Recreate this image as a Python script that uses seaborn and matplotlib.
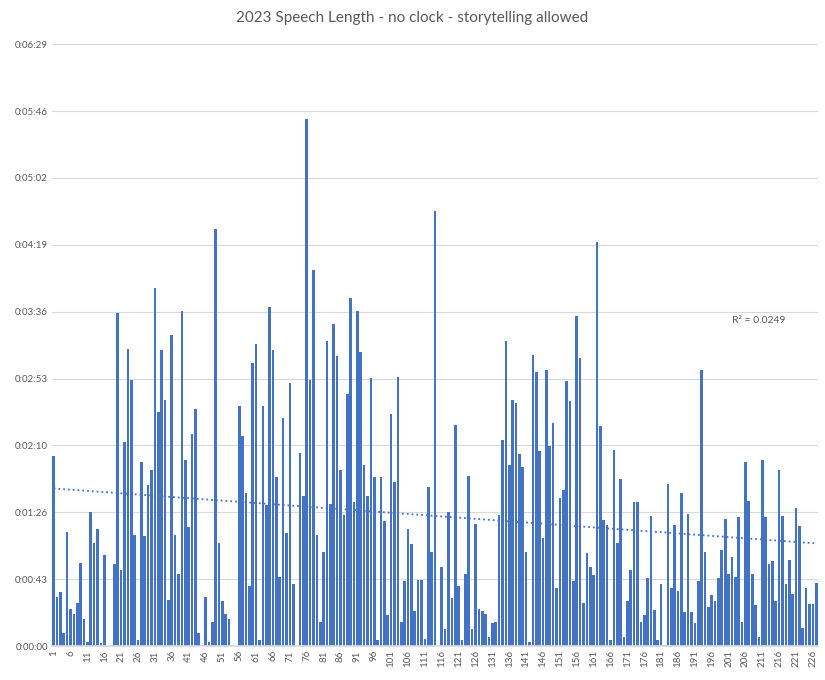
import numpy as np
import pandas as pd
import seaborn as sns
import matplotlib.pyplot as plt

title = "2023 Speech Length - no clock - storytelling allowed"

# speech length in seconds, speech 1..227
seconds = [
    122.9, 31.7, 35.0, 8.5, 73.6, 24.2, 20.8, 27.9, 53.5, 17.5,
    2.8, 86.4, 66.5, 75.5, 1.9, 58.7, 0, 0, 52.8, 215.0,
    49.3, 131.7, 191.8, 171.7, 71.5, 3.8, 118.6, 71.3, 104.0, 113.7,
    231.1, 151.1, 191.1, 158.7, 29.6, 200.8, 71.5, 46.4, 216.2, 120.1,
    76.7, 136.9, 153.0, 8.1, 0, 31.5, 2.6, 15.4, 269.7, 66.5,
    28.9, 20.6, 17.5, 0, 0, 154.9, 135.4, 98.7, 38.6, 182.6,
    194.9, 3.8, 154.9, 90.9, 218.8, 191.1, 108.9, 44.5, 147.1, 72.9,
    169.8, 40.0, 0, 124.6, 97.1, 340.3, 171.7, 243.0, 71.5, 15.4,
    60.6, 196.8, 91.6, 207.9, 187.1, 113.7, 84.5, 162.7, 224.7, 92.8,
    216.4, 189.9, 117.0, 97.1, 172.9, 108.9, 3.8, 108.9, 80.5, 19.9,
    149.7, 105.8, 173.6, 15.4, 41.7, 75.5, 65.8, 22.5, 42.9, 42.9,
    4.7, 102.5, 60.6, 280.8, 0, 50.9, 10.9, 86.4, 31.0, 142.6,
    38.6, 3.8, 46.4, 109.6, 10.9, 78.6, 23.9, 22.5, 20.6, 5.7,
    14.7, 15.4, 84.5, 132.8, 196.8, 116.7, 158.7, 156.8, 123.8, 115.6,
    60.6, 2.6, 187.8, 176.9, 126.2, 69.6, 178.1, 129.1, 144.0, 37.4,
    95.4, 100.6, 171.0, 158.2, 41.7, 213.1, 185.9, 27.7, 59.9, 50.9,
    45.7, 260.7, 142.1, 81.5, 78.1, 3.8, 126.5, 66.5, 107.7, 5.7,
    28.9, 49.0, 92.8, 92.8, 15.4, 19.9, 43.8, 83.8, 23.4, 3.8,
    40.0, 0.5, 104.4, 37.4, 78.1, 35.5, 98.7, 21.8, 85.2, 22.0,
    14.7, 41.7, 178.1, 60.6, 25.3, 32.9, 28.9, 43.8, 61.8, 81.9,
    46.4, 57.5, 44.5, 83.4, 15.4, 118.6, 93.5, 46.4, 26.3, 5.7,
    120.1, 83.4, 52.8, 54.7, 28.9, 113.7, 83.8, 40.0, 55.4, 33.4,
    89.0, 77.7, 11.6, 37.4, 27.2, 27.2, 40.5,
]
speech_no = list(range(1, len(seconds) + 1))

ytick_labels = ["0:00:00", "0:00:43", "0:01:26", "0:02:10", "0:02:53",
                "0:03:36", "0:04:19", "0:05:02", "0:05:46", "0:06:29"]
r2_label = "R² = 0.0249"

df = pd.DataFrame({"speech": speech_no, "seconds": seconds})

sns.set_theme(style="white", rc={"axes.unicode_minus": False})
plt.rcParams["font.family"] = ["Lato", "DejaVu Sans"]

grey = "#595959"
blue = "#4472C4"

fig = plt.figure(figsize=(8.25, 6.8), dpi=100)
ax = fig.add_axes([0.063, 0.05, 0.9285, 0.885])

sns.barplot(data=df, x="speech", y="seconds", color=blue, width=0.78,
            saturation=1, linewidth=0, edgecolor="none", ax=ax)
sns.regplot(x=np.arange(len(df)), y=df["seconds"], scatter=False, ci=None,
            ax=ax, line_kws=dict(color=blue, ls=":", lw=1.3))

ax.set_xlim(-0.5, len(df) - 0.5)
ax.set_ylim(0, 388.8)
ax.set_yticks(np.arange(len(ytick_labels)) * 43.2)
ax.set_yticklabels(ytick_labels)
ax.set_xticks(range(0, len(df), 5))
ax.set_xticklabels(speech_no[::5], rotation=90)
ax.tick_params(length=0, labelsize=7, colors=grey, pad=3)
ax.yaxis.grid(True, color="#D9D9D9", lw=0.8)
ax.set_axisbelow(True)
for s in ["top", "left", "right"]:
    ax.spines[s].set_visible(False)
ax.spines["bottom"].set_color("#D9D9D9")
ax.set_xlabel("")
ax.set_ylabel("")

ax.text(201, 210.6, r2_label, fontsize=7.5, color=grey, va="center")
fig.text(0.5, 0.973, title, ha="center", va="center", fontsize=11, color=grey)

fig.savefig("out.png", dpi=100)
